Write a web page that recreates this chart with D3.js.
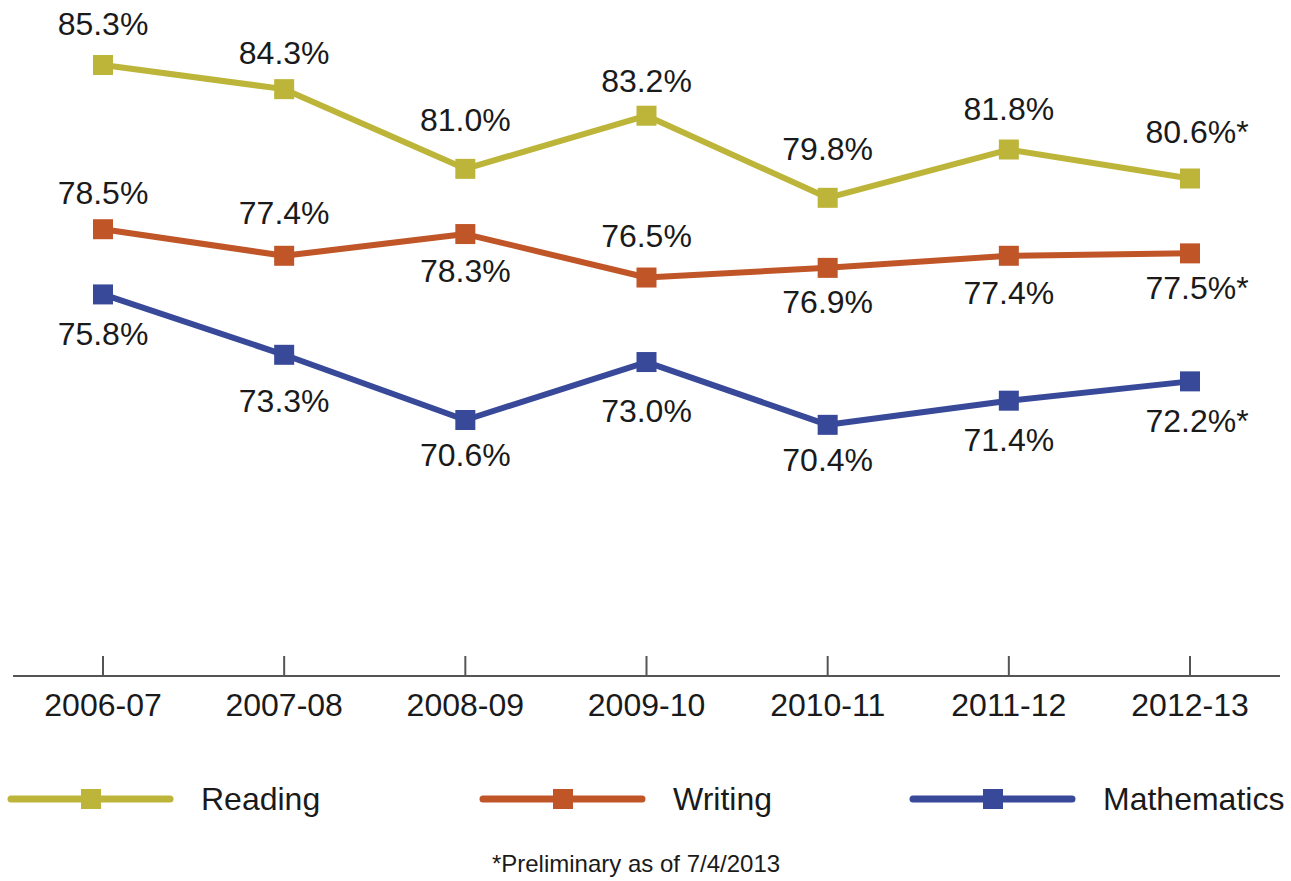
<!DOCTYPE html>
<html>
<head>
<meta charset="utf-8">
<script src="https://cdn.jsdelivr.net/npm/d3@7"></script>
<style>
  html, body { margin: 0; padding: 0; background: #fff; }
  svg { display: block; }
  text { font-family: "Liberation Sans", Arial, sans-serif; fill: #1a1a1a; }
</style>
</head>
<body>
<svg id="chart" width="1291" height="881"></svg>
<script>
const categories = ["2006-07", "2007-08", "2008-09", "2009-10", "2010-11", "2011-12", "2012-13"];
const reading = [85.3, 84.3, 81.0, 83.2, 79.8, 81.8, 80.6];
const writing = [78.5, 77.4, 78.3, 76.5, 76.9, 77.4, 77.5];
const mathematics = [75.8, 73.3, 70.6, 73.0, 70.4, 71.4, 72.2];
const preliminary = [false, false, false, false, false, false, true];
const seriesNames = ["Reading", "Writing", "Mathematics"];
const footnote = "*Preliminary as of 7/4/2013";

// layout: vertical label offsets (px, baseline relative to marker)
const labelDy = {
  Reading: [-30, -25, -38, -24, -38, -30, -36],
  Writing: [-25, -32, 48, -31, 45, 48, 46],
  Mathematics: [51, 57, 46, 60, 46, 50, 51]
};

const colors = { Reading: "#BDB539", Writing: "#C05528", Mathematics: "#384999" };

const series = [
  { name: "Reading", values: reading },
  { name: "Writing", values: writing },
  { name: "Mathematics", values: mathematics }
];

const svg = d3.select("#chart");

const axisY = 676;
const x = d3.scalePoint().domain(categories).range([103, 1190]);
const y = d3.scaleLinear().domain([60, 85.3]).range([axisY, 65]);

// Axis
const axisG = svg.append("g").attr("transform", `translate(0,${axisY})`);
axisG.append("line")
  .attr("x1", 13).attr("x2", 1280).attr("y1", 0).attr("y2", 0)
  .attr("stroke", "#555").attr("stroke-width", 2);
axisG.selectAll("line.tick").data(categories).enter().append("line")
  .attr("class", "tick")
  .attr("x1", d => x(d)).attr("x2", d => x(d))
  .attr("y1", 0).attr("y2", -20)
  .attr("stroke", "#555").attr("stroke-width", 2);
axisG.selectAll("text.tl").data(categories).enter().append("text")
  .attr("class", "tl")
  .attr("x", d => x(d)).attr("y", 40)
  .attr("text-anchor", "middle")
  .style("font-size", "32px")
  .text(d => d);

const line = d3.line().x((d, i) => x(categories[i])).y(d => y(d));

series.forEach(s => {
  const g = svg.append("g");
  g.append("path")
    .datum(s.values)
    .attr("d", line)
    .attr("fill", "none")
    .attr("stroke", colors[s.name])
    .attr("stroke-width", 6)
    .attr("stroke-linejoin", "round");
  g.selectAll("rect").data(s.values).enter().append("rect")
    .attr("x", (d, i) => x(categories[i]) - 10)
    .attr("y", d => y(d) - 10)
    .attr("width", 20).attr("height", 20)
    .attr("fill", colors[s.name]);
  g.selectAll("text").data(s.values).enter().append("text")
    .attr("x", (d, i) => x(categories[i]) + (preliminary[i] ? 7 : 0))
    .attr("y", (d, i) => y(d) + labelDy[s.name][i])
    .attr("text-anchor", "middle")
    .style("font-size", "32px")
    .text((d, i) => d.toFixed(1) + "%" + (preliminary[i] ? "*" : ""));
});

// Legend
const legendX = [8, 480, 910];
const legendY = 799;
seriesNames.forEach((name, i) => {
  const g = svg.append("g").attr("transform", `translate(${legendX[i]},${legendY})`);
  g.append("line")
    .attr("x1", 3).attr("x2", 162).attr("y1", 0).attr("y2", 0)
    .attr("stroke", colors[name]).attr("stroke-width", 7)
    .attr("stroke-linecap", "round");
  g.append("rect")
    .attr("x", 73).attr("y", -10).attr("width", 20).attr("height", 20)
    .attr("fill", colors[name]);
  g.append("text")
    .attr("x", 193).attr("y", 11)
    .style("font-size", "32px")
    .text(name);
});

svg.append("text")
  .attr("x", 636).attr("y", 872)
  .attr("text-anchor", "middle")
  .style("font-size", "24px")
  .text(footnote);
</script>
</body>
</html>
